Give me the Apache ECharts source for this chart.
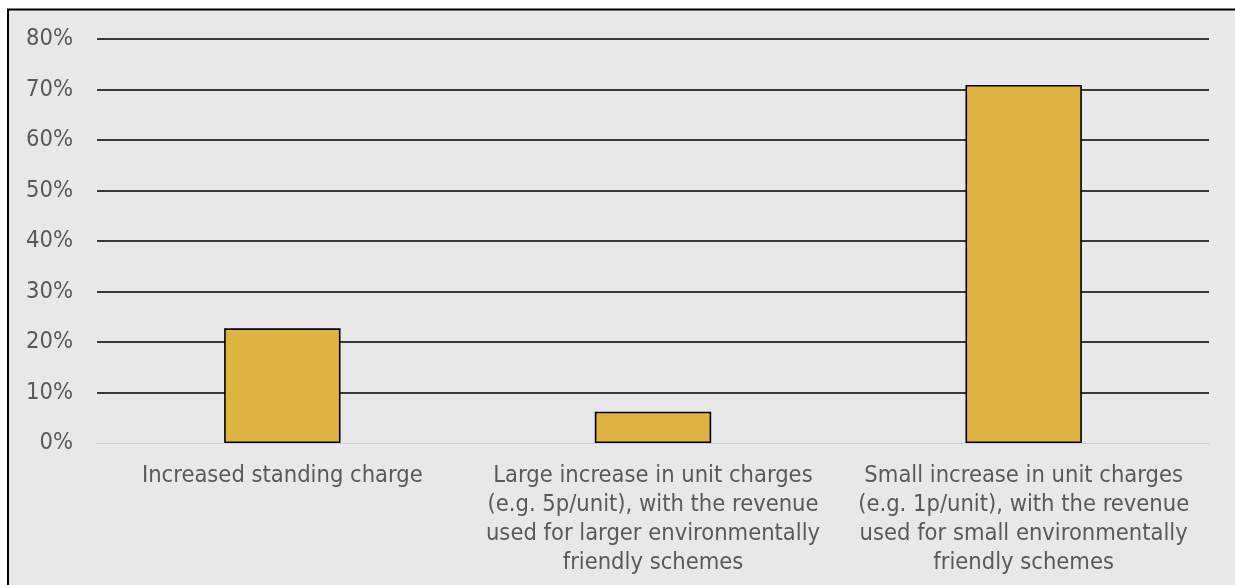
<!DOCTYPE html>
<html>
<head>
<meta charset="utf-8">
<script src="https://cdn.jsdelivr.net/npm/echarts@6/dist/echarts.min.js"></script>
<style>
  html, body { margin: 0; padding: 0; background: #ffffff; }
  #chart { width: 1235px; height: 585px; }
</style>
</head>
<body>
<div id="chart"></div>
<script>
const categories = [
  'Increased standing charge',
  'Large increase in unit charges\n(e.g. 5p/unit), with the revenue\nused for larger environmentally\nfriendly schemes',
  'Small increase in unit charges\n(e.g. 1p/unit), with the revenue\nused for small environmentally\nfriendly schemes'
];
const values = [22.7, 6.2, 70.9];
const yTicks = [0, 10, 20, 30, 40, 50, 60, 70, 80];

const FONT = '"DejaVu Sans Condensed", "DejaVu Sans", sans-serif';
const chart = echarts.init(document.getElementById('chart'), null, { renderer: 'canvas' });
chart.setOption({
  backgroundColor: '#ffffff',
  animation: false,
  graphic: {
    elements: [{
      type: 'rect',
      z: -100,
      silent: true,
      shape: { x: 8, y: 9.5, width: 1400, height: 800 },
      style: { fill: '#e8e8e8', stroke: '#000000', lineWidth: 2 }
    }]
  },
  grid: { left: 97, right: 26, top: 39, bottom: 142, containLabel: false },
  xAxis: {
    type: 'category',
    data: categories,
    axisLine: { show: true, lineStyle: { color: '#d0d0d0', width: 1 } },
    axisTick: { show: false },
    axisLabel: {
      color: '#595959',
      fontFamily: FONT,
      fontSize: 23.5,
      lineHeight: 29,
      margin: 18,
      interval: 0,
      align: 'center'
    }
  },
  yAxis: {
    type: 'value',
    min: yTicks[0],
    max: yTicks[yTicks.length - 1],
    interval: 10,
    axisLine: { show: false },
    axisTick: { show: false },
    axisLabel: {
      color: '#595959',
      fontFamily: FONT,
      fontSize: 23.5,
      margin: 24,
      formatter: v => v + '%'
    },
    splitLine: { show: true, showMinLine: false, lineStyle: { color: '#000000', width: 1.6 } }
  },
  series: [{
    type: 'bar',
    data: values,
    barWidth: '31.4%',
    itemStyle: { color: '#dfb340', borderColor: '#000000', borderWidth: 1.6 }
  }]
});
</script>
</body>
</html>
